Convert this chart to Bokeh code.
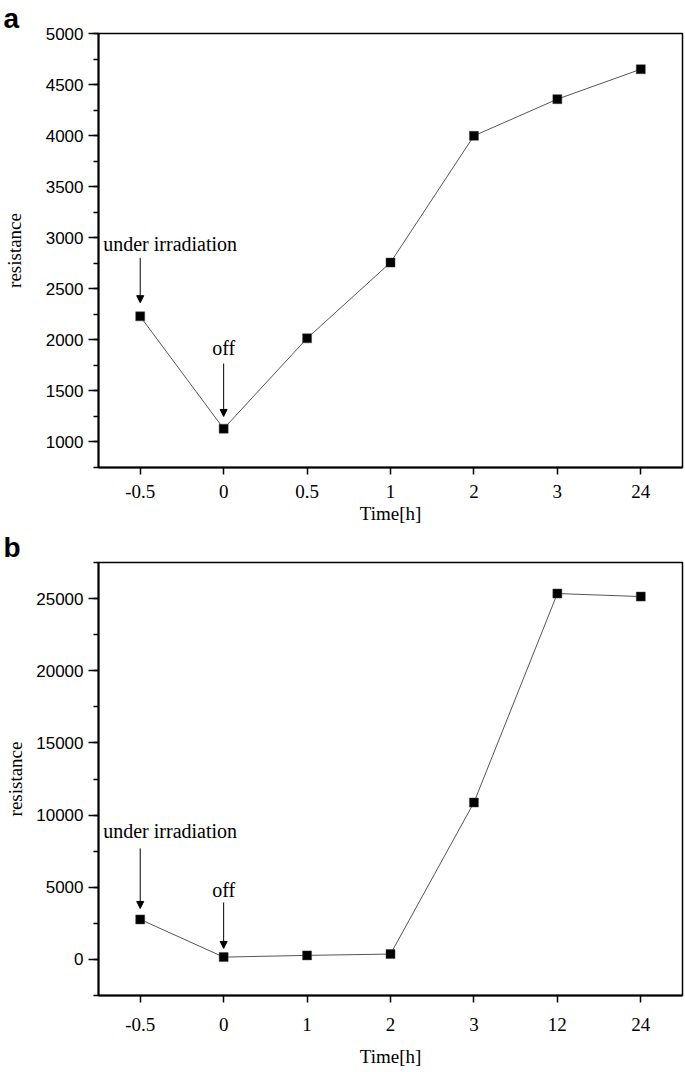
from bokeh.plotting import figure
from bokeh.layouts import column
from bokeh.models import (FactorRange, Range1d, SingleIntervalTicker,
                          Arrow, NormalHead, ColumnDataSource)
from bokeh.core.properties import value
from bokeh.embed import file_html
from bokeh.resources import INLINE

# ---- data (panel a) ----
times_a = ["-0.5", "0", "0.5", "1", "2", "3", "24"]
res_a = [2230, 1130, 2015, 2757, 3998, 4357, 4650]

# ---- data (panel b) ----
times_b = ["-0.5", "0", "1", "2", "3", "12", "24"]
res_b = [2770, 160, 280, 370, 10870, 25350, 25140]

SERIF = "Liberation Serif"
SANS = "Liberation Sans"


def make_panel(letter, factors, vals, yr, interval, height, b_top, b_bottom,
               b_left, b_right, notes, lab_standoff, title_standoff,
               ytitle_standoff):
    p = figure(width=685, height=height, x_range=FactorRange(factors=factors),
               y_range=Range1d(*yr), output_backend="svg", toolbar_location=None,
               min_border_left=b_left, min_border_right=b_right,
               min_border_top=b_top, min_border_bottom=b_bottom)
    p.xgrid.visible = False
    p.ygrid.visible = False
    p.outline_line_color = "black"
    p.outline_line_width = 1.5
    p.outline_line_alpha = 1.0

    # panel letter as title
    p.title.text = letter
    p.title.text_font = SANS
    p.title.text_font_size = "28px"
    p.title.text_font_style = "bold"
    p.title.text_color = "black"
    p.title.align = "left"
    p.title.offset = -95
    p.title.standoff = 0

    # axes
    p.yaxis.ticker = SingleIntervalTicker(interval=interval, num_minor_ticks=2)
    for ax in (p.xaxis[0], p.yaxis[0]):
        ax.axis_line_width = 2
        ax.axis_line_color = "black"
        ax.major_tick_line_color = "black"
        ax.major_tick_line_width = 1.5
        ax.major_tick_in = 0
        ax.major_label_text_color = "black"
        ax.axis_label_text_font = SERIF
        ax.axis_label_text_font_size = "19px"
        ax.axis_label_text_font_style = "normal"
        ax.axis_label_text_color = "black"
    p.yaxis.major_tick_out = 10
    p.yaxis.minor_tick_out = 5
    p.yaxis.minor_tick_in = 0
    p.yaxis.minor_tick_line_color = "black"
    p.yaxis.minor_tick_line_width = 1.5
    p.yaxis.major_label_text_font = SANS
    p.yaxis.major_label_text_font_size = "17px"
    p.yaxis.major_label_standoff = 5
    p.yaxis.axis_label = "resistance"
    p.yaxis.axis_label_standoff = ytitle_standoff
    p.xaxis.major_tick_out = 7
    p.xaxis.major_label_text_font = SERIF
    p.xaxis.major_label_text_font_size = "19px"
    p.xaxis.major_label_standoff = lab_standoff
    p.xaxis.axis_label = "Time[h]"
    p.xaxis.axis_label_standoff = title_standoff

    # data
    src = ColumnDataSource(dict(t=factors, r=vals))
    p.line("t", "r", source=src, line_color="#555555", line_width=1)
    p.scatter("t", "r", source=src, marker="square", size=9,
              fill_color="black", line_color="#444444", line_width=0.5)

    # annotations
    for txt, fac, ty, a0, a1, xoff, align in notes:
        p.text(x=[fac], y=[ty], text=[txt], text_font=value(SERIF),
               text_font_size=value("20px"), text_align=align,
               text_baseline="middle", x_offset=xoff, text_color="black")
        asrc = ColumnDataSource(dict(x=[fac], y0=[a0], y1=[a1]))
        p.add_layout(Arrow(end=NormalHead(size=7, fill_color="black",
                                          line_color="black", line_width=1),
                           x_start="x", y_start="y0", x_end="x", y_end="y1",
                           source=asrc, line_color="black", line_width=1))
    return p


notes_a = [("under irradiation", "-0.5", 2942, 2803, 2364, -37, "left"),
           ("off", "0", 1924, 1768, 1250, 0, "center")]
notes_b = [("under irradiation", "-0.5", 8864, 7687, 3532, -37, "left"),
           ("off", "0", 4778, 3947, 762, 0, "center")]

pa = make_panel("a", times_a, res_a, (750, 5000), 500, 529, 32, 62, 93, 2,
                notes_a, 10, 2, 18)
pb = make_panel("b", times_b, res_b, (-2500, 27500), 5000, 543, 30, 77, 95, 3,
                notes_b, 15, 12, 7)

layout = column(pa, pb, spacing=0)
open("out.html", "w").write(file_html(layout, INLINE))
